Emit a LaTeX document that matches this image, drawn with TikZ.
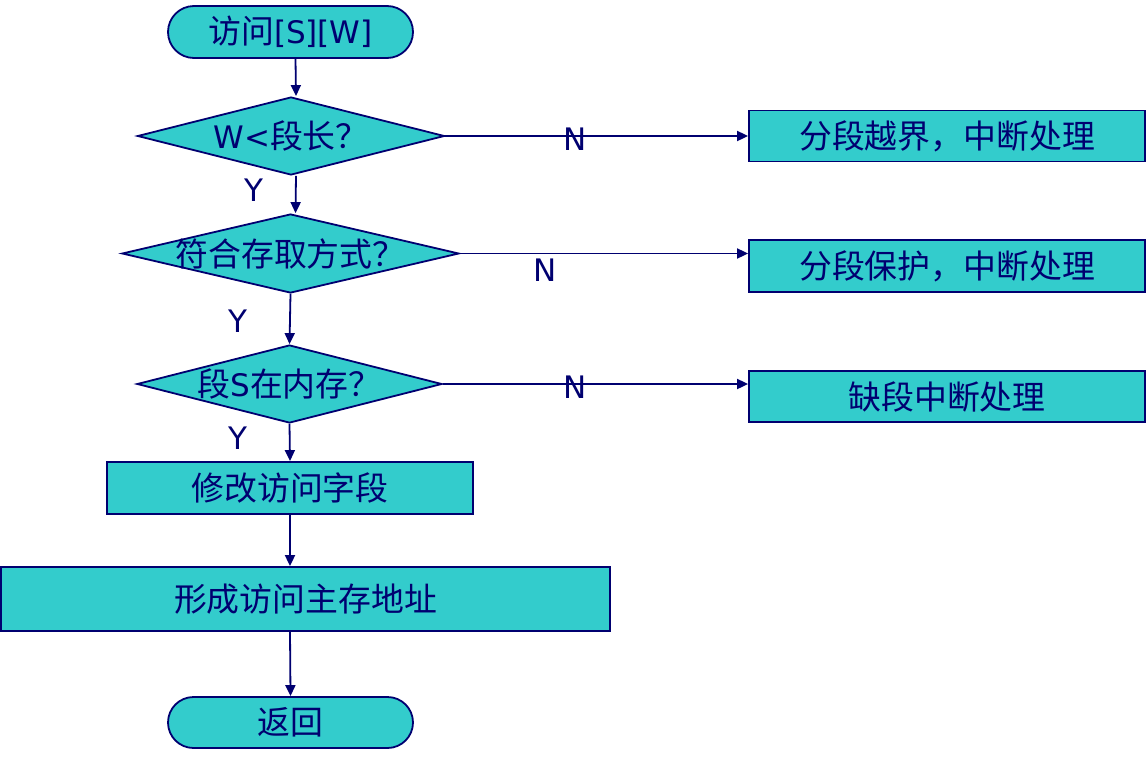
\documentclass[tikz,border=0pt]{standalone}
\usepackage{fontspec}
\setmainfont{DejaVu Sans}
\newfontfamily\cjk[Scale=1.06]{Noto Sans CJK SC}
\usetikzlibrary{shapes.geometric,shapes.misc,arrows.meta}
\definecolor{linec}{HTML}{000070}
\definecolor{fillc}{HTML}{33CCCC}
\begin{document}
\begin{tikzpicture}[x=1pt,y=-1pt,
  base/.style={draw=linec, fill=fillc, line width=1.8pt, text=linec,
    font=\fontsize{31}{36}\selectfont, inner sep=0pt},
  term/.style={base, rounded rectangle, minimum width=245pt, minimum height=52pt},
  proc/.style={base, rectangle},
  dec/.style={base, diamond, aspect=1},
  lbl/.style={text=linec, font=\fontsize{31}{36}\selectfont, inner sep=0pt},
  arr/.style={draw=linec, line width=1.8pt, -{Triangle[length=11pt,width=10pt]}}
]
\useasboundingbox (0,0) rectangle (1147,763);

\node[term] (start) at (290.5,32) {{\cjk 访问}[S][W]};
\node[dec, minimum width=307pt, minimum height=78pt] (d1) at (291,136)
  {\makebox[0pt]{W<{\cjk 段长？}}};
\node[dec, minimum width=337pt, minimum height=79pt] (d2) at (290.5,253.5)
  {\makebox[0pt]{\cjk 符合存取方式？}};
\node[dec, minimum width=305pt, minimum height=78pt] (d3) at (289.5,384)
  {\makebox[0pt]{{\cjk 段}S{\cjk 在内存？}}};
\node[proc, minimum width=366pt, minimum height=52pt] (p1) at (290,488)
  {\cjk 修改访问字段};
\node[proc, minimum width=609pt, minimum height=64pt] (p2) at (305.5,599)
  {\cjk 形成访问主存地址};
\node[term, minimum height=51pt] (stop) at (290.5,722.5) {\cjk 返回};

\node[proc, minimum width=396pt, minimum height=51pt] (b1) at (947,136)
  {\cjk 分段越界，中断处理};
\node[proc, minimum width=396pt, minimum height=52pt] (b2) at (947,266)
  {\cjk 分段保护，中断处理};
\node[proc, minimum width=396pt, minimum height=51pt] (b3) at (947,396.5)
  {\cjk 缺段中断处理};

\draw[arr] ([xshift=5pt]start.south) -- ([xshift=5pt]d1.north);
\draw[arr] ([xshift=5pt]d1.south) -- ([xshift=5pt]d2.north);
\draw[arr] (d2.south) -- (d3.north);
\draw[arr] (d3.south) -- (p1.north);
\draw[arr] (p1.south) -- (p2.north -| p1.south);
\draw[arr] (p2.south -| p1.south) -- (stop.north);

\draw[arr] (d1.east) -- (d1.east -| b1.west);
\draw[arr] (d2.east) -- (d2.east -| b2.west);
\draw[arr] (d3.east) -- (d3.east -| b3.west);

\node[lbl] (y1) at (254,190) {Y};
\node[lbl] (y2) at (238,321) {Y};
\node[lbl] (y3) at (238,438) {Y};
\node[lbl] (n1) at (575,139) {N};
\node[lbl] (n2) at (545,270) {N};
\node[lbl] (n3) at (575,387) {N};
\end{tikzpicture}
\end{document}
